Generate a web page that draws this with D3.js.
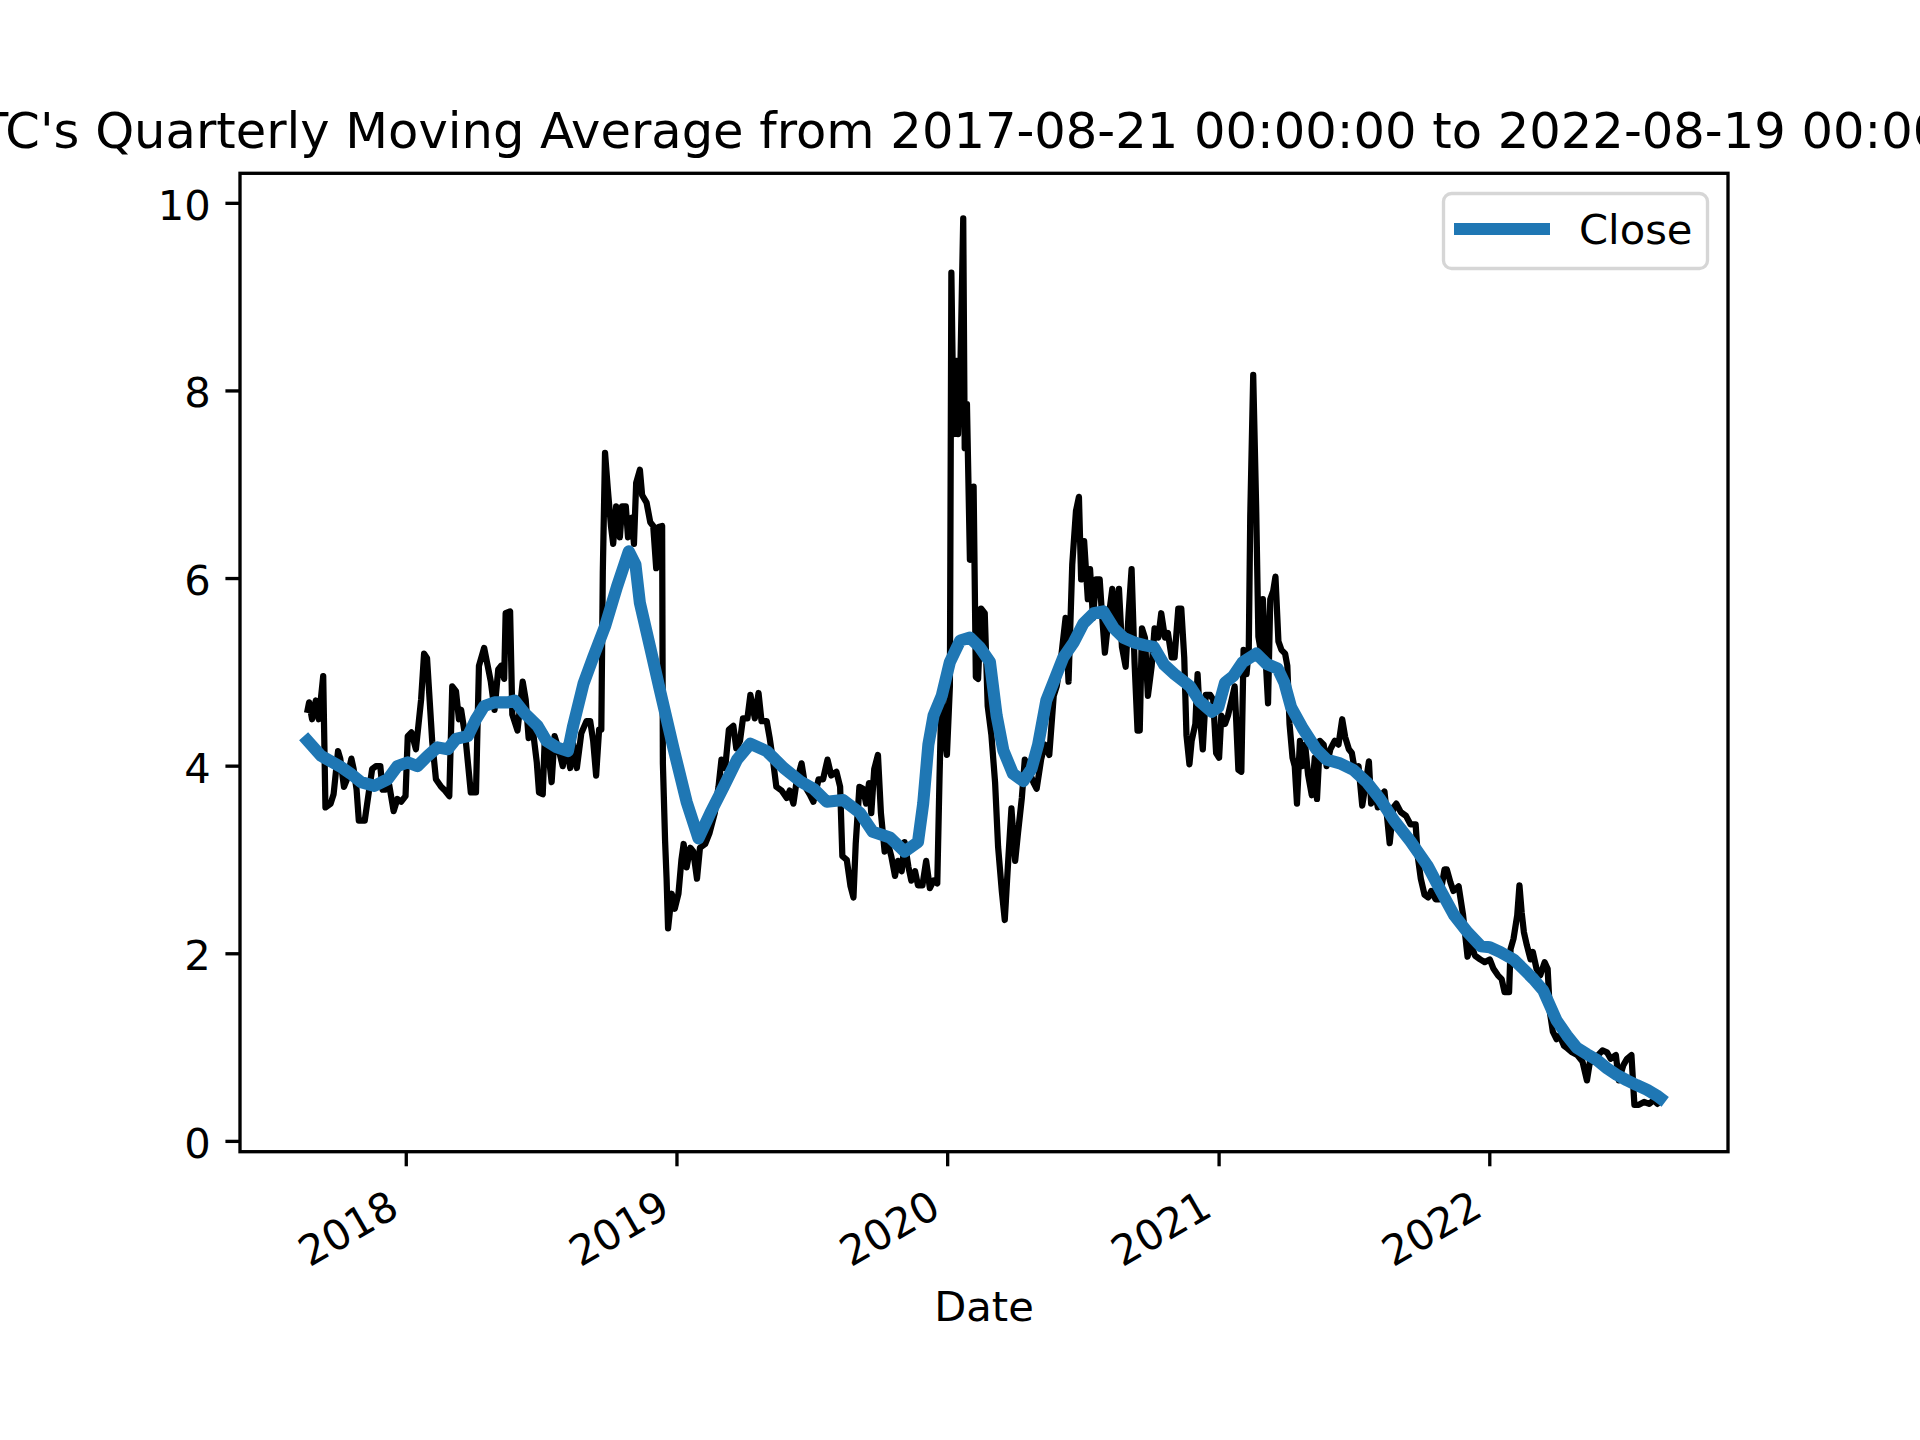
<!DOCTYPE html>
<html>
<head>
<meta charset="utf-8">
<script src="https://cdn.jsdelivr.net/npm/d3@7"></script>
<style>
  body { margin: 0; background: #fff; }
  text { font-family: "DejaVu Sans", sans-serif; fill: #000; }
</style>
</head>
<body>
<script>
const closeDates = [
  '2017-08-21','2017-08-23','2017-08-27','2017-09-01','2017-09-05','2017-09-11','2017-09-14','2017-09-21','2017-09-25',
  '2017-10-01','2017-10-04','2017-10-09','2017-10-13','2017-10-19','2017-10-22','2017-10-26','2017-10-29',
  '2017-11-06','2017-11-12','2017-11-16','2017-11-21','2017-11-27','2017-11-30','2017-12-04','2017-12-09',
  '2017-12-15','2017-12-20','2017-12-25','2017-12-31',
  '2018-01-03','2018-01-08','2018-01-14','2018-01-21','2018-01-25','2018-01-29','2018-02-05','2018-02-10',
  '2018-02-17','2018-02-21','2018-02-28','2018-03-04','2018-03-09','2018-03-13','2018-03-16','2018-03-22',
  '2018-03-29','2018-04-05','2018-04-09','2018-04-16','2018-04-20','2018-04-25','2018-04-30','2018-05-05',
  '2018-05-09','2018-05-13','2018-05-15','2018-05-21','2018-05-24','2018-05-31','2018-06-07','2018-06-11',
  '2018-06-15','2018-06-20','2018-06-26','2018-06-29','2018-07-04','2018-07-07','2018-07-11','2018-07-16',
  '2018-07-20','2018-07-25','2018-07-31','2018-08-05','2018-08-10','2018-08-14','2018-08-19','2018-08-25',
  '2018-09-01','2018-09-06','2018-09-10','2018-09-14','2018-09-18','2018-09-21','2018-09-23','2018-09-26',
  '2018-09-30','2018-10-04','2018-10-07','2018-10-11','2018-10-16','2018-10-19','2018-10-24','2018-10-27',
  '2018-11-01','2018-11-04','2018-11-07','2018-11-12','2018-11-15','2018-11-21','2018-11-26','2018-11-30',
  '2018-12-04','2018-12-07','2018-12-12','2018-12-13','2018-12-16','2018-12-18','2018-12-20','2018-12-25',
  '2018-12-29',
  '2019-01-03','2019-01-07','2019-01-10','2019-01-14','2019-01-19','2019-01-23','2019-01-28','2019-02-01',
  '2019-02-08','2019-02-14','2019-02-21','2019-02-26','2019-03-02','2019-03-07','2019-03-12','2019-03-18',
  '2019-03-22','2019-03-27','2019-03-31','2019-04-06','2019-04-10','2019-04-16','2019-04-21','2019-04-25',
  '2019-05-02','2019-05-06','2019-05-11','2019-05-15','2019-05-22','2019-05-29','2019-06-02','2019-06-07',
  '2019-06-11','2019-06-18','2019-06-23','2019-06-29','2019-07-04','2019-07-11','2019-07-17','2019-07-23',
  '2019-07-28','2019-08-04','2019-08-09','2019-08-12','2019-08-18','2019-08-23','2019-08-27','2019-08-30',
  '2019-09-04','2019-09-09','2019-09-13','2019-09-17','2019-09-20','2019-09-24','2019-09-29','2019-10-03',
  '2019-10-08','2019-10-12','2019-10-17','2019-10-22','2019-10-26','2019-10-31','2019-11-04','2019-11-09',
  '2019-11-13','2019-11-18','2019-11-22','2019-11-28','2019-12-03','2019-12-08','2019-12-13','2019-12-18',
  '2019-12-21','2019-12-24','2019-12-28','2019-12-31',
  '2020-01-04','2020-01-06','2020-01-09','2020-01-13','2020-01-15','2020-01-18','2020-01-22','2020-01-24',
  '2020-01-27','2020-01-31','2020-02-05','2020-02-08','2020-02-11','2020-02-15','2020-02-20','2020-02-24',
  '2020-02-29','2020-03-05','2020-03-09','2020-03-14','2020-03-18','2020-03-23','2020-03-27','2020-04-01',
  '2020-04-05','2020-04-10','2020-04-14','2020-04-21','2020-04-26','2020-04-30','2020-05-06','2020-05-11',
  '2020-05-17','2020-05-23','2020-05-27','2020-06-02','2020-06-08','2020-06-12','2020-06-17','2020-06-22',
  '2020-06-26','2020-06-29','2020-07-03','2020-07-08','2020-07-11','2020-07-15','2020-07-19','2020-07-24',
  '2020-07-27','2020-07-31','2020-08-05','2020-08-10','2020-08-14','2020-08-19','2020-08-23','2020-08-28',
  '2020-09-01','2020-09-05','2020-09-09','2020-09-13','2020-09-16','2020-09-19','2020-09-23','2020-09-27',
  '2020-10-02','2020-10-06','2020-10-11','2020-10-15','2020-10-20','2020-10-24','2020-10-29','2020-11-02',
  '2020-11-07','2020-11-11','2020-11-15','2020-11-18','2020-11-22','2020-11-25','2020-11-30','2020-12-03',
  '2020-12-06','2020-12-10','2020-12-14','2020-12-20','2020-12-24','2020-12-28',
  '2021-01-01','2021-01-04','2021-01-09','2021-01-13','2021-01-18','2021-01-22','2021-01-27','2021-01-31',
  '2021-02-03','2021-02-07','2021-02-10','2021-02-12','2021-02-16','2021-02-20','2021-02-23','2021-02-26',
  '2021-03-01','2021-03-05','2021-03-08','2021-03-11','2021-03-15','2021-03-18','2021-03-22','2021-03-26',
  '2021-03-31','2021-04-03','2021-04-06','2021-04-10','2021-04-13','2021-04-16','2021-04-20','2021-04-23',
  '2021-04-27','2021-05-01','2021-05-06','2021-05-10','2021-05-13','2021-05-17','2021-05-22','2021-05-26',
  '2021-05-31','2021-06-06','2021-06-11','2021-06-16','2021-06-20','2021-06-25','2021-06-29','2021-07-04',
  '2021-07-08','2021-07-13','2021-07-17','2021-07-22','2021-07-25','2021-07-30','2021-08-03','2021-08-08',
  '2021-08-12','2021-08-16','2021-08-19','2021-08-24','2021-08-28','2021-09-03','2021-09-10','2021-09-16',
  '2021-09-23','2021-09-26','2021-09-30','2021-10-05','2021-10-10','2021-10-14','2021-10-20','2021-10-25',
  '2021-11-01','2021-11-04','2021-11-09','2021-11-13','2021-11-20','2021-11-26','2021-12-02','2021-12-07',
  '2021-12-12','2021-12-19','2021-12-25',
  '2022-01-01','2022-01-06','2022-01-12','2022-01-17','2022-01-21','2022-01-27','2022-01-29','2022-02-02',
  '2022-02-07','2022-02-10','2022-02-13','2022-02-16','2022-02-20','2022-02-25','2022-02-28','2022-03-05',
  '2022-03-10','2022-03-16','2022-03-20','2022-03-23','2022-03-27','2022-04-01','2022-04-05','2022-04-11',
  '2022-04-16','2022-04-22','2022-04-29','2022-05-06','2022-05-12','2022-05-16','2022-05-21','2022-05-27',
  '2022-06-02','2022-06-08','2022-06-13','2022-06-20','2022-06-24','2022-06-30','2022-07-05','2022-07-11',
  '2022-07-15','2022-07-21','2022-07-28','2022-08-04','2022-08-10','2022-08-15','2022-08-19'
];
const closeValues = [
  4.6,4.68,4.5,4.7,4.5,4.96,3.56,3.6,3.7,
  4.16,4.08,3.78,3.86,4.08,3.97,3.75,3.42,
  3.42,3.75,3.97,4.0,4.0,3.75,3.75,3.8,
  3.52,3.65,3.62,3.68,
  4.32,4.36,4.18,4.71,5.2,5.15,4.26,3.86,
  3.78,3.75,3.68,4.85,4.8,4.5,4.6,4.29,
  3.72,3.72,5.07,5.26,5.1,4.9,4.6,5.03,
  5.07,4.93,5.63,5.65,4.55,4.38,4.9,4.71,
  4.3,4.43,4.04,3.72,3.7,4.35,4.19,3.83,
  4.32,4.19,4.0,4.24,3.98,4.24,3.98,4.35,
  4.48,4.48,4.27,3.9,4.39,4.39,6.07,7.34,
  6.93,6.56,6.37,6.77,6.44,6.77,6.77,6.44,
  6.65,6.37,7.02,7.16,6.89,6.81,6.6,6.56,
  6.11,6.55,6.56,4.03,3.2,2.8,2.27,2.64,
  2.48,
  2.64,3.0,3.17,2.92,3.13,3.09,2.8,3.13,
  3.17,3.29,3.5,3.78,4.07,3.98,4.39,4.43,
  4.19,4.27,4.51,4.51,4.76,4.51,4.78,4.48,
  4.48,4.3,4.03,3.78,3.74,3.66,3.74,3.6,
  3.82,4.03,3.78,3.7,3.62,3.86,3.86,4.07,
  3.9,3.94,3.78,3.04,3.0,2.72,2.6,3.17,
  3.78,3.76,3.6,3.82,3.5,3.97,4.12,3.5,
  3.09,3.19,3.04,2.83,2.99,2.88,3.19,2.93,
  2.78,2.88,2.73,2.73,2.99,2.7,2.78,2.75,
  3.87,4.85,4.33,4.12,
  4.85,9.26,7.54,8.32,7.54,8.17,9.84,7.39,
  7.86,6.2,6.98,4.95,4.93,5.68,5.63,4.64,
  4.33,3.82,3.14,2.67,2.36,3.04,3.55,2.99,
  3.3,3.66,4.07,3.92,3.82,3.76,4.07,4.23,
  4.12,4.75,4.85,5.16,5.58,4.9,6.15,6.72,
  6.87,5.99,6.4,5.78,6.1,5.58,5.99,5.99,
  5.63,5.21,5.58,5.89,5.42,5.89,5.27,5.06,
  5.63,6.1,5.11,4.38,4.38,5.47,5.37,4.75,
  5.06,5.47,5.37,5.63,5.37,5.42,5.16,5.16,
  5.68,5.68,5.16,4.33,4.02,4.27,4.45,4.98,
  4.54,4.18,4.76,4.76,4.71,4.14,
  4.09,4.54,4.45,4.54,4.71,4.85,3.96,3.94,
  5.24,4.98,5.24,6.66,8.17,6.75,5.38,5.24,
  5.78,5.11,4.67,5.78,5.87,6.02,5.33,5.24,
  5.2,5.07,4.45,4.09,4.0,3.6,4.27,4.0,
  4.23,3.91,3.69,4.09,3.65,4.27,4.23,4.0,
  4.18,4.27,4.23,4.5,4.31,4.18,4.14,3.91,
  4.0,3.58,3.78,4.05,3.6,3.73,3.56,3.69,
  3.73,3.42,3.18,3.56,3.6,3.51,3.47,3.38,
  3.38,3.03,2.8,2.63,2.6,2.67,2.58,2.58,
  2.9,2.9,2.76,2.67,2.72,2.41,1.97,2.1,
  1.98,1.94,1.91,
  1.94,1.84,1.77,1.73,1.59,1.59,2.05,2.16,
  2.41,2.73,2.44,2.23,2.09,1.94,2.02,1.84,
  1.77,1.91,1.84,1.38,1.17,1.09,1.13,1.02,
  0.99,0.95,0.92,0.85,0.65,0.85,0.85,0.92,
  0.97,0.95,0.88,0.92,0.65,0.81,0.88,0.92,
  0.39,0.39,0.42,0.4,0.44,0.4,0.44
];

// quarterly moving average (the blue "Close" line)
const maDates = [
  '2017-08-21','2017-09-08','2017-10-05','2017-10-18','2017-11-01','2017-11-19','2017-12-07','2017-12-20',
  '2018-01-03','2018-01-16','2018-01-30','2018-02-12','2018-02-26','2018-03-09','2018-03-25','2018-04-05',
  '2018-04-16','2018-04-30','2018-05-18','2018-05-27','2018-06-09','2018-06-27','2018-07-09','2018-07-23',
  '2018-08-07','2018-08-14','2018-08-28','2018-09-10','2018-09-26','2018-10-12','2018-10-28','2018-11-06',
  '2018-11-12','2018-11-26','2018-12-09','2018-12-27',
  '2019-01-14','2019-01-30','2019-02-15','2019-03-05','2019-03-23','2019-04-10','2019-05-02','2019-05-25',
  '2019-06-16','2019-07-04','2019-07-22','2019-08-13','2019-09-05','2019-09-22','2019-10-15','2019-11-04',
  '2019-11-22','2019-11-29','2019-12-06','2019-12-13','2019-12-24',
  '2020-01-04','2020-01-18','2020-01-31','2020-02-13','2020-02-27','2020-03-07','2020-03-16','2020-03-29',
  '2020-04-12','2020-04-23','2020-05-02','2020-05-13','2020-05-23','2020-06-05','2020-06-19','2020-07-02',
  '2020-07-16','2020-07-29','2020-08-12','2020-08-25','2020-09-08','2020-09-22','2020-10-05','2020-10-19',
  '2020-11-02','2020-11-15','2020-11-23','2020-12-06','2020-12-22','2020-12-31',
  '2021-01-09','2021-01-20','2021-02-02','2021-02-20','2021-03-06','2021-03-21','2021-03-30','2021-04-08',
  '2021-04-24','2021-05-12','2021-05-26','2021-06-13','2021-07-01','2021-07-19','2021-08-06','2021-08-25',
  '2021-09-16','2021-10-09','2021-10-27','2021-11-14','2021-12-02','2021-12-20',
  '2022-01-01','2022-01-15','2022-02-02','2022-02-15','2022-03-01','2022-03-14','2022-03-23','2022-04-01',
  '2022-04-15','2022-04-28','2022-05-12','2022-05-25','2022-06-08','2022-06-21','2022-07-05','2022-07-18',
  '2022-08-01','2022-08-14','2022-08-19'
];
const maValues = [
  4.27,4.11,3.99,3.92,3.83,3.79,3.86,4.0,
  4.04,4.0,4.11,4.2,4.18,4.29,4.32,4.5,
  4.64,4.68,4.68,4.7,4.57,4.43,4.27,4.2,
  4.16,4.43,4.88,5.16,5.49,5.91,6.29,6.15,
  5.74,5.26,4.81,4.2,
  3.62,3.23,3.5,3.78,4.07,4.24,4.16,3.98,
  3.84,3.76,3.62,3.64,3.5,3.3,3.24,3.09,
  3.19,3.6,4.23,4.54,4.75,
  5.11,5.34,5.37,5.27,5.11,4.54,4.17,3.92,
  3.84,3.97,4.23,4.7,4.9,5.16,5.32,5.52,
  5.63,5.65,5.47,5.37,5.32,5.29,5.27,5.08,
  4.98,4.9,4.85,4.69,4.58,4.63,
  4.89,4.96,5.11,5.2,5.09,5.04,4.89,4.63,
  4.4,4.18,4.07,4.03,3.96,3.83,3.65,3.42,
  3.2,2.94,2.67,2.41,2.23,2.08,
  2.07,2.02,1.94,1.84,1.73,1.61,1.45,1.29,
  1.13,1.0,0.93,0.87,0.78,0.71,0.65,0.6,
  0.55,0.49,0.46
];

const yTicks = [0, 2, 4, 6, 8, 10];
const xTickYears = ['2018', '2019', '2020', '2021', '2022'];
const titleText = "BTC's Quarterly Moving Average from 2017-08-21 00:00:00 to 2022-08-19 00:00:00";
const xLabel = 'Date';
const legendLabel = 'Close';

const W = 1920, H = 1440;
const box = { left: 240, right: 1728, top: 173.3, bottom: 1151.7 };
const pt = 300 / 72;   // matplotlib points -> px at 300 dpi
const fs = 10 * pt;    // tick / label font size

const parse = d3.utcParse('%Y-%m-%d');
const close = closeDates.map((d, i) => ({ date: parse(d), value: closeValues[i] }));
const ma = maDates.map((d, i) => ({ date: parse(d), value: maValues[i] }));

// matplotlib-style 5% margin on the date axis
const ext = d3.extent(close, d => d.date);
const pad = (ext[1] - ext[0]) * 0.05;
const x = d3.scaleUtc()
  .domain([new Date(+ext[0] - pad), new Date(+ext[1] + pad)])
  .range([box.left, box.right]);
const y = d3.scaleLinear().domain([-0.11, 10.32]).range([box.bottom, box.top]);

const svg = d3.select('body').append('svg')
  .attr('width', W).attr('height', H)
  .style('display', 'block');

svg.append('rect').attr('width', W).attr('height', H).attr('fill', '#fff');

const line = d3.line().x(d => x(d.date)).y(d => y(d.value));

svg.append('path')
  .datum(close)
  .attr('d', line)
  .attr('fill', 'none')
  .attr('stroke', '#000')
  .attr('stroke-width', 1.5 * pt)
  .attr('stroke-linejoin', 'round')
  .attr('stroke-linecap', 'square');

svg.append('path')
  .datum(ma)
  .attr('d', line)
  .attr('fill', 'none')
  .attr('stroke', '#1f77b4')
  .attr('stroke-width', 2.9 * pt)
  .attr('stroke-linejoin', 'round')
  .attr('stroke-linecap', 'square');

// frame
svg.append('rect')
  .attr('x', box.left).attr('y', box.top)
  .attr('width', box.right - box.left).attr('height', box.bottom - box.top)
  .attr('fill', 'none').attr('stroke', '#000').attr('stroke-width', 0.8 * pt);

const tickLen = 3.5 * pt;

// y axis
const yAxis = svg.append('g');
yTicks.forEach(t => {
  yAxis.append('line')
    .attr('x1', box.left - tickLen).attr('x2', box.left)
    .attr('y1', y(t)).attr('y2', y(t))
    .attr('stroke', '#000').attr('stroke-width', 0.8 * pt);
  yAxis.append('text')
    .attr('x', box.left - 2 * tickLen)
    .attr('y', y(t) + 16.5)
    .attr('text-anchor', 'end')
    .attr('font-size', fs)
    .text(t);
});

// x axis, yearly ticks, labels rotated 30deg
const xAxis = svg.append('g');
const x0 = box.bottom + 2 * tickLen;
xTickYears.forEach(yr => {
  const tx = x(parse(yr + '-01-01'));
  xAxis.append('line')
    .attr('x1', tx).attr('x2', tx)
    .attr('y1', box.bottom).attr('y2', box.bottom + tickLen)
    .attr('stroke', '#000').attr('stroke-width', 0.8 * pt);
  const ax = tx - 5, ay = x0 + 33.6;
  xAxis.append('text')
    .attr('x', ax).attr('y', ay)
    .attr('text-anchor', 'end')
    .attr('font-size', fs)
    .attr('transform', `rotate(-30,${ax},${ay})`)
    .text(yr);
});

const cx = (box.left + box.right) / 2;

svg.append('text')
  .attr('x', cx).attr('y', 1321)
  .attr('text-anchor', 'middle')
  .attr('font-size', fs)
  .text(xLabel);

// title is wider than the figure in the original too, so it runs off both edges
svg.append('text')
  .attr('x', cx).attr('y', box.top - 6 * pt)
  .attr('text-anchor', 'middle')
  .attr('font-size', 12 * pt)
  .attr('textLength', 2080)
  .attr('lengthAdjust', 'spacingAndGlyphs')
  .text(titleText);

// legend
const lg = svg.append('g');
lg.append('rect')
  .attr('x', 1443.5).attr('y', 193.5)
  .attr('width', 264).attr('height', 75)
  .attr('rx', 8)
  .attr('fill', '#fff').attr('fill-opacity', 0.8)
  .attr('stroke', '#d6d6d6').attr('stroke-width', 0.8 * pt);
lg.append('line')
  .attr('x1', 1454).attr('x2', 1550)
  .attr('y1', 229).attr('y2', 229)
  .attr('stroke', '#1f77b4').attr('stroke-width', 2.9 * pt);
lg.append('text')
  .attr('x', 1579).attr('y', 243.5)
  .attr('font-size', fs)
  .text(legendLabel);
</script>
</body>
</html>
